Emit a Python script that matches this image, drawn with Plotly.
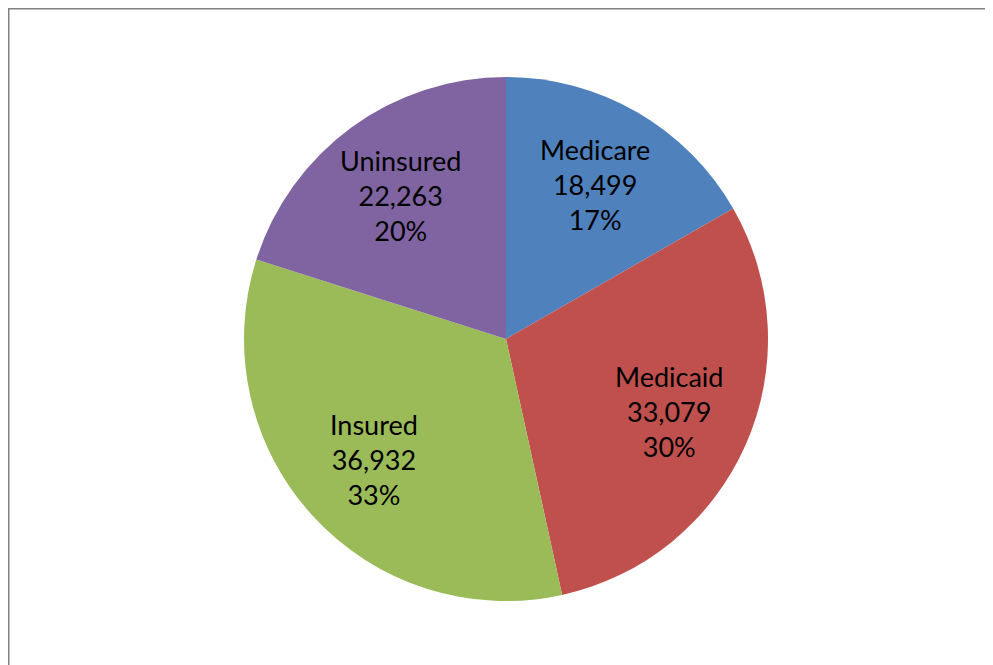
import math
import plotly.graph_objects as go

categories = ["Medicare", "Medicaid", "Insured", "Uninsured"]
values = [18499, 33079, 36932, 22263]
colors = ["#4F81BD", "#C0504D", "#9BBB59", "#8064A2"]

# figure is drawn 8px in from the page edge, so page coords - 8
W, H = 993, 665
cx, cy, r = 498, 331, 262
label_r = 0.68 * r

fig = go.Figure(go.Pie(
    labels=categories,
    values=values,
    sort=False,
    direction="clockwise",
    rotation=0,
    marker=dict(colors=colors, line=dict(width=0)),
    textinfo="none",
    hoverinfo="label+value+percent",
    showlegend=False,
    domain=dict(x=[(cx - r) / W, (cx + r) / W], y=[(H - cy - r) / H, (H - cy + r) / H]),
))

total = sum(values)
annotations = []
cum = 0
for lab, v in zip(categories, values):
    mid = (cum + v / 2) / total * 2 * math.pi
    cum += v
    px = cx + label_r * math.sin(mid)
    py = cy - label_r * math.cos(mid)
    annotations.append(dict(
        x=px / W, y=1 - py / H, xref="paper", yref="paper",
        text=f"{lab}<br>{v:,}<br>{round(v / total * 100)}%",
        showarrow=False, align="center",
        font=dict(family="Lato, Carlito, sans-serif", size=27, color="black"),
        xanchor="center", yanchor="middle",
    ))

fig.update_layout(
    width=W, height=H,
    margin=dict(l=0, r=0, t=0, b=0),
    paper_bgcolor="white",
    plot_bgcolor="white",
    annotations=annotations,
    shapes=[
        dict(type="line", xref="paper", yref="paper", x0=0, x1=1.01, y0=1 - 0.75 / H, y1=1 - 0.75 / H,
             line=dict(color="#808080", width=1.5)),
        dict(type="line", xref="paper", yref="paper", x0=0.75 / W, x1=0.75 / W, y0=-0.01, y1=1,
             line=dict(color="#808080", width=1.5)),
    ],
)

fig.write_html("out.html")
